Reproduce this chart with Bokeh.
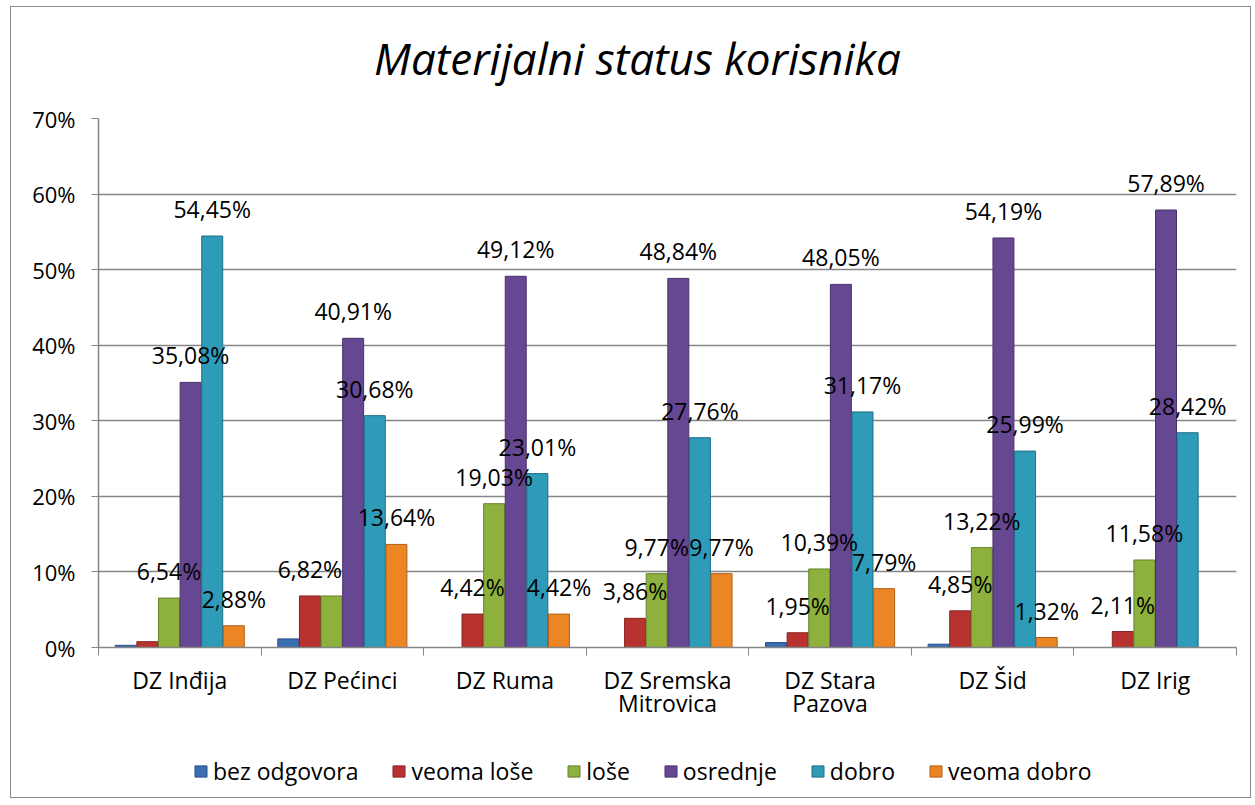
from bokeh.plotting import figure
from bokeh.layouts import column
from bokeh.models import (ColumnDataSource, Range1d, LinearAxis, FixedTicker,
                          PrintfTickFormatter, Legend, LegendItem, Grid, Label)
from bokeh.transform import dodge
from bokeh.core.properties import value
from bokeh.embed import file_html
from bokeh.resources import INLINE

# ---- data ----
title_text = "Materijalni status korisnika"
categories = ["DZ Inđija", "DZ Pećinci", "DZ Ruma", "DZ Sremska\nMitrovica",
              "DZ Stara\nPazova", "DZ Šid", "DZ Irig"]
series_names = ["bez odgovora", "veoma loše", "loše", "osrednje", "dobro", "veoma dobro"]
bez_odgovora = [0.29, 1.14, 0.0, 0.0, 0.65, 0.44, 0.0]
veoma_lose = [0.77, 6.82, 4.42, 3.86, 1.95, 4.85, 2.11]
lose = [6.54, 6.82, 19.03, 9.77, 10.39, 13.22, 11.58]
osrednje = [35.08, 40.91, 49.12, 48.84, 48.05, 54.19, 57.89]
dobro = [54.45, 30.68, 23.01, 27.76, 31.17, 25.99, 28.42]
veoma_dobro = [2.88, 13.64, 4.42, 9.77, 7.79, 1.32, 0.0]
# which data labels are shown in the original
show_bez = [False] * 7
show_veoma_lose = [False, True, True, True, True, True, True]
show_lose = [True, False, True, True, True, True, True]
show_osrednje = [True] * 7
show_dobro = [True] * 7
show_veoma_dobro = [True, True, True, True, True, True, False]
y_ticks = [0, 10, 20, 30, 40, 50, 60, 70]

series = [bez_odgovora, veoma_lose, lose, osrednje, dobro, veoma_dobro]
shows = [show_bez, show_veoma_lose, show_lose, show_osrednje, show_dobro, show_veoma_dobro]
colors = ["#3B6DB3", "#B83330", "#8DB13C", "#664792", "#2E9BB8", "#EC8524"]
edges = ["#2A4F85", "#862322", "#66822A", "#48326A", "#1F6F86", "#B0601A"]

FONT = "Open Sans"
idx = list(range(len(categories)))
W = 1239
BL, BR = 87, 14   # same side borders for all stacked figures (frames align)


def strip(height):
    f = figure(width=W, height=height, output_backend="svg", toolbar_location=None,
               x_range=Range1d(0, 1), y_range=Range1d(0, 1), title=None,
               min_border_left=BL, min_border_right=BR,
               min_border_top=0, min_border_bottom=0,
               x_axis_type=None, y_axis_type=None)
    f.outline_line_color = None
    f.grid.visible = False
    f.background_fill_color = "white"
    f.border_fill_color = "white"
    return f


# ---- title strip ----
tf = strip(95)
tf.add_layout(Label(x=0.5, y=0.5, x_offset=-30, y_offset=-3, text=title_text,
                    text_align="center", text_baseline="middle", text_font=FONT,
                    text_font_style="italic", text_font_size="44px",
                    text_color="#000000"))

# ---- main chart ----
p = figure(width=W, height=643, output_backend="svg", toolbar_location=None, title=None,
           x_range=Range1d(-0.5, len(categories) - 0.5), y_range=Range1d(0, 70),
           min_border_left=BL, min_border_right=BR, min_border_top=16,
           min_border_bottom=98, x_axis_type=None, y_axis_type=None)
p.outline_line_color = None
p.background_fill_color = "white"
p.border_fill_color = "white"

# y axis
yax = LinearAxis(ticker=FixedTicker(ticks=y_ticks),
                 formatter=PrintfTickFormatter(format="%d%%"))
yax.axis_line_color = "#868686"
yax.axis_line_width = 1.5
yax.major_tick_line_color = "#868686"
yax.major_tick_out = 7
yax.major_tick_in = 0
yax.minor_tick_line_color = None
yax.major_label_standoff = 16
yax.major_label_text_font = FONT
yax.major_label_text_font_size = "22px"
yax.major_label_text_color = "#000000"
p.add_layout(yax, "left")

# x axis: boundary tick marks
xax = LinearAxis(ticker=FixedTicker(ticks=[i - 0.5 for i in range(len(categories) + 1)]))
xax.axis_line_color = "#868686"
xax.axis_line_width = 1.5
xax.major_tick_line_color = "#868686"
xax.major_tick_out = 8
xax.major_tick_in = 0
xax.minor_tick_line_color = None
xax.major_label_text_color = None
xax.major_label_text_font_size = "1px"
xax.major_label_standoff = 0
p.add_layout(xax, "below")

# x axis: category names
cax = LinearAxis(ticker=FixedTicker(ticks=idx),
                 major_label_overrides={i: c for i, c in zip(idx, categories)})
cax.axis_line_color = None
cax.major_tick_line_color = None
cax.minor_tick_line_color = None
cax.major_label_standoff = 2
cax.major_label_text_font = FONT
cax.major_label_text_font_size = "23px"
cax.major_label_text_line_height = 0.74
cax.major_label_text_color = "#000000"
p.add_layout(cax, "below")

# grid
p.add_layout(Grid(dimension=1, ticker=FixedTicker(ticks=y_ticks),
                  grid_line_color="#868686", grid_line_width=1.5))

bar_w = 0.133
n = len(series)
sources = []
for k, vals in enumerate(series):
    off = (k - (n - 1) / 2) * bar_w
    labels = [(f"{v:.2f}".replace(".", ",") + "%") if s else ""
              for v, s in zip(vals, shows[k])]
    src = ColumnDataSource(dict(x=idx, top=vals, lab=labels))
    sources.append((off, src))
    p.vbar(x=dodge("x", off, range=p.x_range), top="top", width=bar_w * 0.97,
           bottom=0, source=src, fill_color=colors[k], line_color=edges[k], line_width=1)

for off, src in sources:
    p.text(x=dodge("x", off, range=p.x_range), y="top", text="lab", source=src,
           text_align="center", text_baseline="middle", y_offset=-27,
           text_font=value(FONT), text_font_size="23px", text_color="#000000")

# ---- legend strip (its bars lie outside its view; only the keys show) ----
lf = strip(52)
lf.x_range = Range1d(100, 101)
lf.y_range = Range1d(100, 101)
items = []
for k, name in enumerate(series_names):
    r = lf.vbar(x=idx, top=series[k], width=bar_w, fill_color=colors[k], line_color=edges[k])
    items.append(LegendItem(label=name, renderers=[r]))
legend = Legend(items=items, orientation="horizontal", location=(95, 10),
                label_text_font=FONT, label_text_font_size="23px",
                label_text_color="#000000", glyph_width=15, glyph_height=14,
                spacing=33, label_standoff=5, border_line_color=None,
                background_fill_alpha=0, margin=0, padding=0)
lf.add_layout(legend, "center")

layout = column(tf, p, lf, spacing=0, margin=(6, 0, 0, 10),
                styles={"border": "1px solid #8a8a8a"})

open("out.html", "w").write(file_html(layout, INLINE))
